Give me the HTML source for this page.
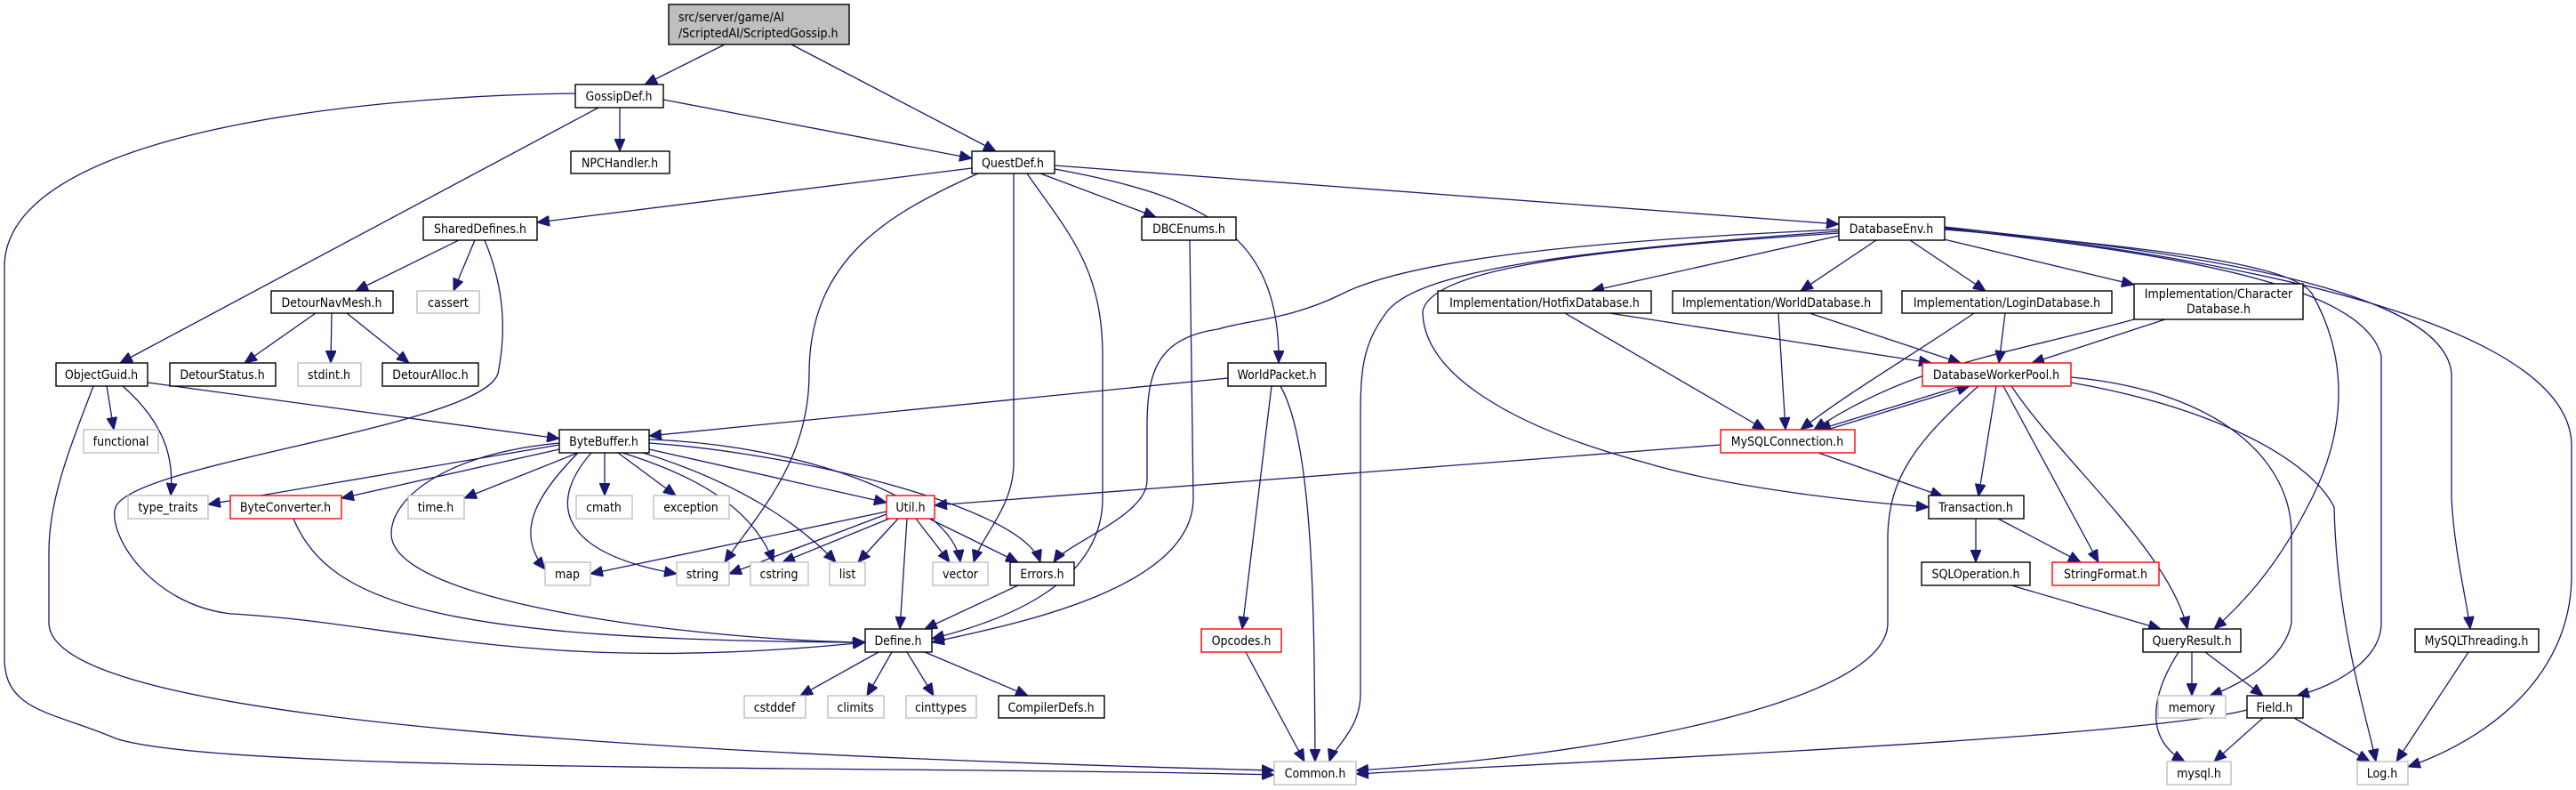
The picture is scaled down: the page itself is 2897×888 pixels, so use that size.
<!DOCTYPE html>
<html><head><meta charset="utf-8">
<style>
html,body{margin:0;padding:0;background:#fff;}
svg{display:block}
text{font-family:"DejaVu Sans Condensed","Liberation Sans",sans-serif;font-size:14px;fill:#000}
.e{fill:none;stroke:#191970;stroke-width:1.3}
</style></head>
<body>
<svg width="2897" height="888" viewBox="0 0 2897 888" xmlns="http://www.w3.org/2000/svg">
<defs>
<marker id="a" markerUnits="userSpaceOnUse" markerWidth="16" markerHeight="12" refX="14" refY="6" orient="auto">
<path d="M0,0 L14,6 L0,12 z" fill="#191970" stroke="#191970"/>
</marker>
</defs>
<g marker-end="url(#a)">
<path class="e" d="M815,50 L725,95"/>
<path class="e" d="M890,50 L1120,170"/>
<path class="e" d="M697,121 L697,170"/>
<path class="e" d="M746,112 L1093,178"/>
<path class="e" d="M673,121 L135,408"/>
<path class="e" d="M647,105 C400,108 5,150 5,300 L5,740 C5,800 60,800 130,830 C250,870 1000,860 1433,871"/>
<path class="e" d="M1093,189 L604,250"/>
<path class="e" d="M1170,195 L1300,244"/>
<path class="e" d="M1186,186 L2068,252"/>
<path class="e" d="M1186,190 C1350,220 1440,260 1438,408"/>
<path class="e" d="M1100,195 C1000,240 910,290 910,420 C910,520 850,580 815,632"/>
<path class="e" d="M1140,195 L1140,520 C1140,570 1105,600 1095,632"/>
<path class="e" d="M1155,195 C1200,260 1240,300 1240,400 L1240,560 C1240,660 1120,700 1048,718"/>
<path class="e" d="M516,270 L400,327"/>
<path class="e" d="M534,270 L510,327"/>
<path class="e" d="M545,270 C570,330 568,380 560,420 C540,480 150,520 130,570 C120,600 170,680 260,690 C450,700 600,760 973,722"/>
<path class="e" d="M355,352 L275,408"/>
<path class="e" d="M373,352 L372,408"/>
<path class="e" d="M390,352 L460,408"/>
<path class="e" d="M120,434 L128,483"/>
<path class="e" d="M138,434 C190,480 195,520 192,557"/>
<path class="e" d="M166,430 L629,493"/>
<path class="e" d="M105,434 C80,500 55,560 55,620 L55,700 C55,780 400,840 1433,866"/>
<path class="e" d="M1338,270 L1342,560 C1342,660 1150,700 1048,722"/>
<path class="e" d="M1381,425 L730,490"/>
<path class="e" d="M1430,434 L1397,707"/>
<path class="e" d="M1440,434 C1478,500 1478,700 1479,856"/>
<path class="e" d="M2068,265 L1790,327"/>
<path class="e" d="M2110,270 L2025,327"/>
<path class="e" d="M2148,270 L2233,327"/>
<path class="e" d="M2182,268 L2400,320"/>
<path class="e" d="M2068,258 C1800,270 1590,290 1510,330 C1450,360 1400,360 1370,370 C1300,380 1290,420 1290,480 L1290,540 C1290,580 1200,610 1185,632"/>
<path class="e" d="M2068,260 C1800,280 1600,300 1560,350 C1530,390 1530,420 1530,480 L1530,780 C1530,820 1500,840 1495,856"/>
<path class="e" d="M2068,262 C1800,280 1610,300 1600,350 C1600,420 1700,480 1850,520 C1950,550 2100,565 2169,570"/>
<path class="e" d="M2187,258 C2450,280 2580,300 2600,330 C2640,400 2640,480 2600,560 C2560,640 2520,680 2490,707"/>
<path class="e" d="M2187,257 C2500,290 2660,330 2678,400 L2678,700 C2678,740 2630,770 2583,782"/>
<path class="e" d="M2187,256 C2550,290 2750,340 2757,420 L2757,560 C2760,620 2775,680 2778,707"/>
<path class="e" d="M2187,255 C2600,300 2890,380 2892,500 L2892,650 C2890,760 2800,830 2708,862"/>
<path class="e" d="M1760,352 L1985,483"/>
<path class="e" d="M1810,352 L2172,408"/>
<path class="e" d="M2000,352 L2008,483"/>
<path class="e" d="M2035,352 L2205,408"/>
<path class="e" d="M2220,352 C2150,400 2080,440 2025,483"/>
<path class="e" d="M2255,352 L2248,408"/>
<path class="e" d="M2400,359 C2250,400 2150,410 2040,483"/>
<path class="e" d="M2435,359 L2285,408"/>
<path class="e" d="M2205,434 L2045,483"/>
<path class="e" d="M2055,483 L2215,434"/>
<path class="e" d="M2245,434 L2225,558"/>
<path class="e" d="M2253,434 L2360,632"/>
<path class="e" d="M2262,434 C2320,520 2440,620 2460,707"/>
<path class="e" d="M2329,424 C2500,440 2577,520 2577,600 L2577,700 C2570,740 2520,770 2485,782"/>
<path class="e" d="M2329,430 C2500,460 2600,520 2625,570 C2628,700 2660,800 2672,856"/>
<path class="e" d="M2225,434 C2150,500 2125,540 2123,600 L2123,700 C2123,790 1800,850 1525,866"/>
<path class="e" d="M1935,500 L1051,568"/>
<path class="e" d="M2045,509 L2185,558"/>
<path class="e" d="M2222,583 L2222,632"/>
<path class="e" d="M2247,583 L2340,632"/>
<path class="e" d="M2262,658 L2430,707"/>
<path class="e" d="M2465,733 L2465,782"/>
<path class="e" d="M2480,733 L2545,782"/>
<path class="e" d="M2450,733 C2420,780 2410,830 2457,856"/>
<path class="e" d="M2776,733 L2695,856"/>
<path class="e" d="M2545,807 L2490,856"/>
<path class="e" d="M2580,807 L2665,856"/>
<path class="e" d="M2527,798 C2400,830 1800,855 1525,870"/>
<path class="e" d="M1401,733 L1467,856"/>
<path class="e" d="M629,500 L234,567"/>
<path class="e" d="M629,505 L384,560"/>
<path class="e" d="M650,509 L522,560"/>
<path class="e" d="M650,509 C600,560 580,600 613,640"/>
<path class="e" d="M665,509 C620,560 620,620 761,645"/>
<path class="e" d="M680,509 L680,557"/>
<path class="e" d="M695,509 L760,557"/>
<path class="e" d="M700,509 C800,540 850,580 870,632"/>
<path class="e" d="M710,505 C830,540 900,590 940,632"/>
<path class="e" d="M730,505 L997,565"/>
<path class="e" d="M730,498 C900,510 1150,570 1170,632"/>
<path class="e" d="M730,494 C900,500 1070,560 1080,632"/>
<path class="e" d="M629,498 C500,510 440,560 440,600 C440,680 800,720 973,722"/>
<path class="e" d="M330,583 C370,680 500,720 973,722"/>
<path class="e" d="M997,575 L664,645"/>
<path class="e" d="M997,578 L820,645"/>
<path class="e" d="M1000,583 L880,632"/>
<path class="e" d="M1010,583 L965,632"/>
<path class="e" d="M1030,583 L1068,632"/>
<path class="e" d="M1045,583 L1145,632"/>
<path class="e" d="M1020,583 L1012,707"/>
<path class="e" d="M1145,658 L1040,707"/>
<path class="e" d="M988,733 L900,782"/>
<path class="e" d="M1003,733 L975,782"/>
<path class="e" d="M1020,733 L1050,782"/>
<path class="e" d="M1040,733 L1156,782"/>
</g>
<g stroke-width="1.4">
<rect x="752" y="5" width="203" height="45" fill="#bfbfbf" stroke="#000"/>
<text x="763" y="24">src/server/game/AI</text>
<text x="763" y="42">/ScriptedAI/ScriptedGossip.h</text>
</g>
<g fill="#fff" stroke="#000" stroke-width="1.4">
<rect x="647" y="95" width="99" height="26"/>
<rect x="642" y="170" width="111" height="25"/>
<rect x="1093" y="170" width="93" height="25"/>
<rect x="476" y="244" width="128" height="26"/>
<rect x="1284" y="244" width="106" height="26"/>
<rect x="2068" y="244" width="119" height="26"/>
<rect x="305" y="327" width="137" height="25"/>
<rect x="1617" y="327" width="240" height="25"/>
<rect x="1881" y="327" width="235" height="25"/>
<rect x="2139" y="327" width="236" height="25"/>
<rect x="2400" y="319" width="190" height="40"/>
<rect x="63" y="408" width="103" height="26"/>
<rect x="191" y="408" width="119" height="26"/>
<rect x="430" y="408" width="108" height="26"/>
<rect x="1381" y="408" width="110" height="26"/>
<rect x="629" y="483" width="101" height="26"/>
<rect x="2169" y="557" width="107" height="26"/>
<rect x="1136" y="632" width="72" height="26"/>
<rect x="2161" y="632" width="122" height="26"/>
<rect x="973" y="707" width="75" height="26"/>
<rect x="2410" y="707" width="110" height="26"/>
<rect x="2716" y="707" width="139" height="26"/>
<rect x="1123" y="782" width="119" height="25"/>
<rect x="2527" y="782" width="63" height="25"/>
</g>
<g fill="#fff" stroke="#ff0000" stroke-width="1.4">
<rect x="2162" y="408" width="167" height="26"/>
<rect x="1935" y="483" width="151" height="26"/>
<rect x="259" y="557" width="125" height="26"/>
<rect x="997" y="557" width="54" height="26"/>
<rect x="2308" y="632" width="120" height="26"/>
<rect x="1351" y="707" width="90" height="26"/>
</g>
<g fill="#fff" stroke="#bfbfbf" stroke-width="1.4">
<rect x="469" y="327" width="70" height="25"/>
<rect x="335" y="408" width="71" height="26"/>
<rect x="94" y="483" width="84" height="26"/>
<rect x="144" y="557" width="90" height="26"/>
<rect x="459" y="557" width="63" height="26"/>
<rect x="648" y="557" width="63" height="26"/>
<rect x="735" y="557" width="85" height="26"/>
<rect x="613" y="632" width="51" height="26"/>
<rect x="761" y="632" width="59" height="26"/>
<rect x="844" y="632" width="65" height="26"/>
<rect x="933" y="632" width="40" height="26"/>
<rect x="1049" y="632" width="62" height="26"/>
<rect x="837" y="782" width="69" height="25"/>
<rect x="931" y="782" width="63" height="25"/>
<rect x="1019" y="782" width="79" height="25"/>
<rect x="2427" y="782" width="76" height="25"/>
<rect x="1433" y="856" width="92" height="26"/>
<rect x="2437" y="856" width="72" height="26"/>
<rect x="2651" y="856" width="57" height="26"/>
</g>
<g text-anchor="middle">
<text x="696" y="113">GossipDef.h</text>
<text x="697" y="188">NPCHandler.h</text>
<text x="1139" y="188">QuestDef.h</text>
<text x="540" y="262">SharedDefines.h</text>
<text x="1337" y="262">DBCEnums.h</text>
<text x="2127" y="262">DatabaseEnv.h</text>
<text x="373" y="345">DetourNavMesh.h</text>
<text x="504" y="345">cassert</text>
<text x="1737" y="345">Implementation/HotfixDatabase.h</text>
<text x="1998" y="345">Implementation/WorldDatabase.h</text>
<text x="2257" y="345">Implementation/LoginDatabase.h</text>
<text x="2495" y="335">Implementation/Character</text>
<text x="2495" y="352">Database.h</text>
<text x="114" y="426">ObjectGuid.h</text>
<text x="250" y="426">DetourStatus.h</text>
<text x="370" y="426">stdint.h</text>
<text x="484" y="426">DetourAlloc.h</text>
<text x="1436" y="426">WorldPacket.h</text>
<text x="2245" y="426">DatabaseWorkerPool.h</text>
<text x="136" y="501">functional</text>
<text x="679" y="501">ByteBuffer.h</text>
<text x="2010" y="501">MySQLConnection.h</text>
<text x="189" y="575">type_traits</text>
<text x="321" y="575">ByteConverter.h</text>
<text x="490" y="575">time.h</text>
<text x="679" y="575">cmath</text>
<text x="777" y="575">exception</text>
<text x="1024" y="575">Util.h</text>
<text x="2222" y="575">Transaction.h</text>
<text x="638" y="650">map</text>
<text x="790" y="650">string</text>
<text x="876" y="650">cstring</text>
<text x="953" y="650">list</text>
<text x="1080" y="650">vector</text>
<text x="1172" y="650">Errors.h</text>
<text x="2222" y="650">SQLOperation.h</text>
<text x="2368" y="650">StringFormat.h</text>
<text x="1010" y="725">Define.h</text>
<text x="1396" y="725">Opcodes.h</text>
<text x="2465" y="725">QueryResult.h</text>
<text x="2785" y="725">MySQLThreading.h</text>
<text x="871" y="800">cstddef</text>
<text x="962" y="800">climits</text>
<text x="1058" y="800">cinttypes</text>
<text x="1182" y="800">CompilerDefs.h</text>
<text x="2465" y="800">memory</text>
<text x="2558" y="800">Field.h</text>
<text x="1479" y="874">Common.h</text>
<text x="2473" y="874">mysql.h</text>
<text x="2679" y="874">Log.h</text>
</g>
</svg>
</body></html>
